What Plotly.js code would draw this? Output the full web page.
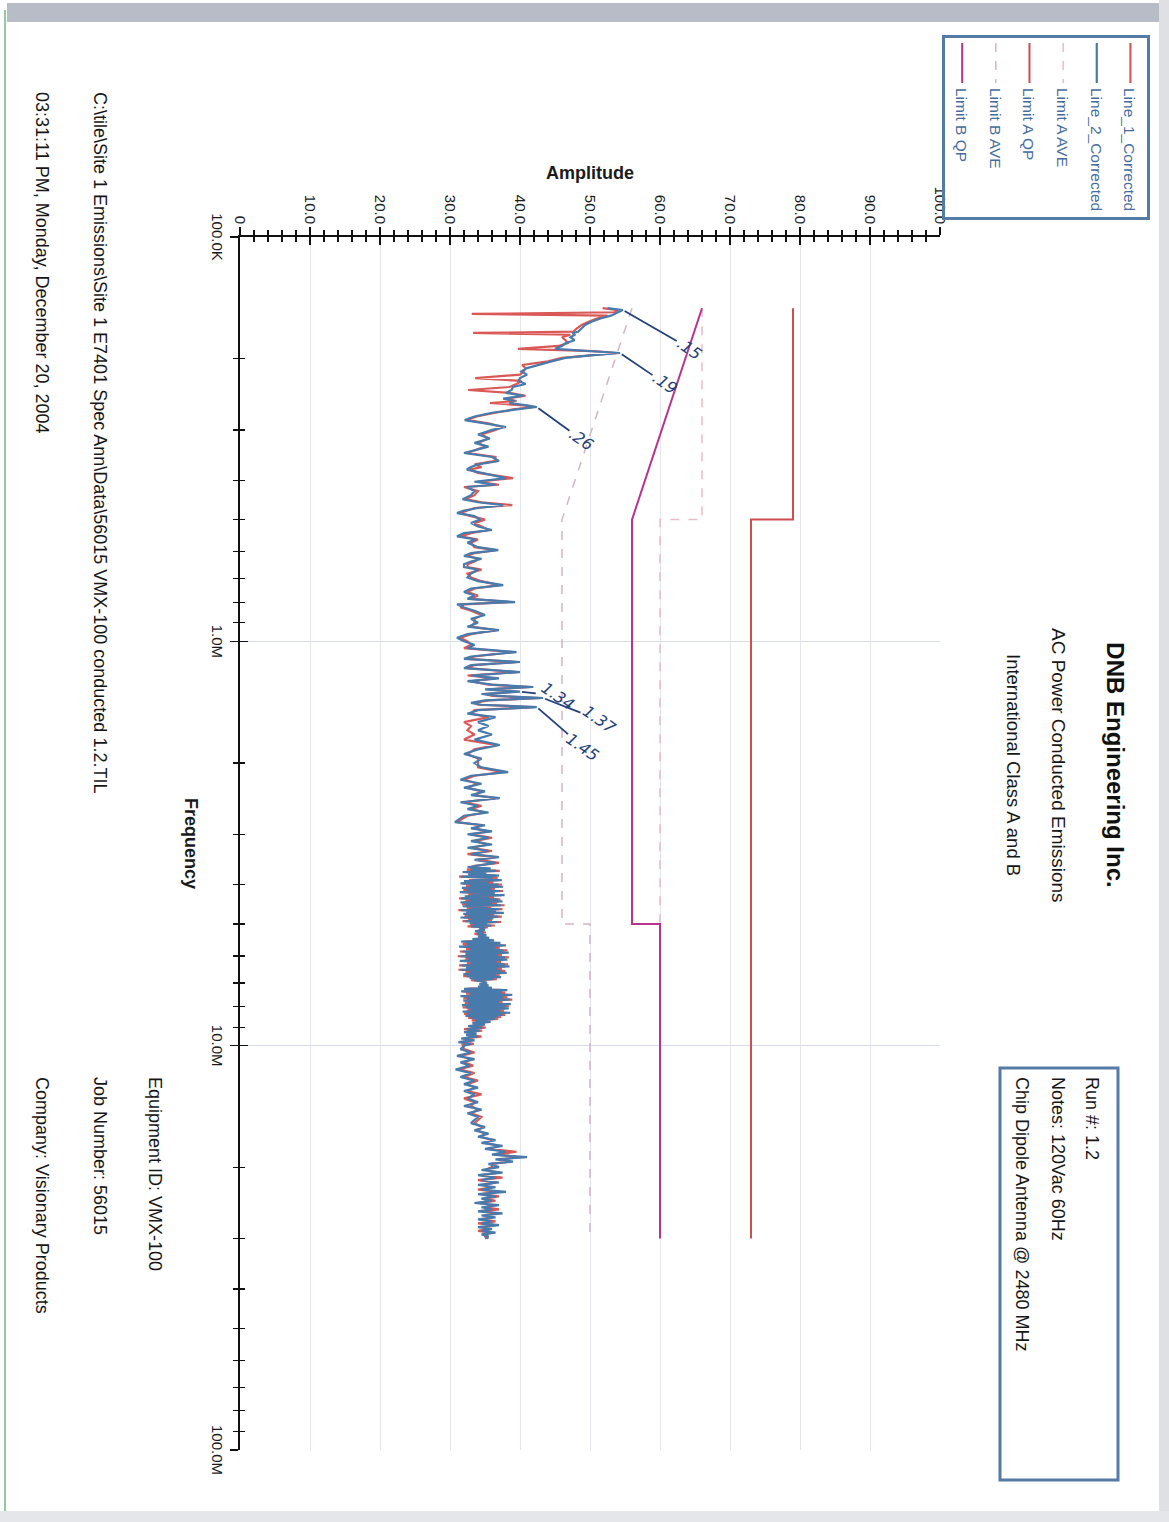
<!DOCTYPE html>
<html>
<head>
<meta charset="utf-8">
<script src="https://cdn.plot.ly/plotly-3.0.1.min.js"></script>
<style>
html,body{margin:0;padding:0;width:1169px;height:1522px;overflow:hidden;background:#fff;}
#wrap{position:absolute;left:0;top:0;width:1522px;height:1169px;transform-origin:0 0;transform:translate(1169px,0) rotate(90deg);}
#chart{width:1522px;height:1169px;}
</style>
</head>
<body>
<div id="wrap"><div id="chart"></div></div>
<script>
// ---------- DATA (frequency in MHz, amplitude in dBuV) ----------
const freqA = [0.150,0.1516,0.1535,0.155,0.1565,0.159,0.162,0.165,0.169,0.1715,
  0.1727,0.1745,0.177,0.180,0.183,0.186,0.189,0.1915,0.1936,0.196,
  0.199,0.203,0.2073,0.211,0.215,0.219,0.2233,0.227,0.231,0.235,
  0.239,0.243,0.247,0.251,0.2545,0.2574,0.261,0.2633,0.267,0.272,
  0.278,0.2836,0.289,0.2951,0.300];
const line1A = [51.8,54.0,53.5,33.1,52.5,51.0,49.8,48.8,48.0,47.6,
  33.3,47.2,46.0,46.5,46.8,45.5,39.7,50.5,53.8,50.0,
  46.0,44.0,40.3,40.8,40.5,40.0,33.6,40.2,39.5,38.5,
  32.6,38.5,40.8,38.0,39.5,35.7,40.5,42.0,39.0,36.5,
  33.8,32.5,35.5,37.5,36.5];
const line2A = [52.5,54.7,54.0,53.5,53.0,51.5,50.2,49.3,48.6,48.3,
  47.5,47.8,47.2,47.8,46.5,46.0,45.0,51.0,54.3,50.5,
  46.5,44.5,42.5,41.0,40.2,41.0,40.0,39.8,40.8,39.0,
  38.8,38.0,40.5,37.6,39.2,38.5,41.0,42.4,39.5,36.0,
  33.5,32.1,35.0,38.0,36.0];

const freqB = [0.308,0.315,0.323,0.330,0.3422,0.350,0.358,0.365,0.3707,0.376,
  0.383,0.3947,0.403,0.410,0.4153,0.425,0.435,0.445,0.453,0.4602,
  0.468,0.475,0.4817,0.490,0.500,0.510,0.520,0.5305,0.540,0.550,
  0.560,0.570,0.585,0.5946,0.605,0.615,0.625,0.635,0.645,0.6552,
  0.665,0.680,0.695,0.710,0.7258,0.740,0.755,0.770,0.785,0.7996,
  0.810,0.825,0.840,0.861,0.880,0.900,0.920,0.938,0.960,0.980];
const line1B = [34.5,35.5,34.0,35.0,32.5,36.5,36.5,33.5,34.5,32.8,
  34.0,39.0,34.0,37.0,32.0,34.0,33.5,32.2,34.5,38.9,
  33.5,32.5,31.5,33.0,35.0,33.5,34.5,35.5,33.0,31.5,
  34.0,33.0,33.5,36.5,33.5,32.5,34.0,33.5,32.5,32.5,
  34.5,32.5,33.0,34.5,37.0,33.5,32.5,34.0,33.0,38.5,
  32.0,31.5,33.0,34.5,33.5,33.5,33.0,36.5,33.0,31.5];
const line2B = [34.0,35.7,33.5,35.5,32.0,36.0,37.0,34.0,33.0,32.4,
  34.5,38.0,33.5,36.5,32.4,33.5,33.0,31.8,34.0,37.6,
  34.0,32.0,31.0,33.5,34.3,33.0,34.0,36.0,32.0,31.0,
  33.7,32.5,34.0,36.9,33.0,32.0,34.5,33.0,32.0,32.0,
  34.0,33.0,32.5,34.0,37.6,33.0,32.0,33.5,32.5,39.3,
  31.0,32.0,33.5,35.0,33.0,34.0,32.5,37.0,32.5,31.0];

const freqC = [1.000,1.020,1.040,1.063,1.090,1.105,1.125,1.145,1.165,1.191,
  1.215,1.235,1.255,1.280,1.297,1.315,1.332,1.350,1.365,1.381,
  1.400,1.420,1.435,1.454,1.480,1.510,1.540,1.584,1.620,1.660,
  1.700,1.750,1.805,1.850,1.900,1.950,2.000,2.050,2.106,2.150,
  2.200,2.250,2.300,2.350,2.400,2.441,2.500,2.550,2.600,2.650,
  2.700,2.799,2.850,2.900,2.950,3.000,3.060,3.120,3.180,3.240,
  3.300,3.360,3.416,3.470,3.530,3.590];
const line1C = [32.5,33.0,32.0,39.0,33.5,32.5,39.5,33.5,32.5,39.5,
  32.5,36.5,33.0,35.5,41.5,35.5,39.5,35.0,36.0,43.0,
  35.5,33.5,34.0,42.0,33.5,33.0,35.5,32.0,33.0,32.5,
  33.5,32.0,36.5,33.5,32.5,34.0,34.0,34.0,37.5,33.5,
  32.0,34.0,32.5,34.5,33.5,36.5,32.0,34.5,33.0,35.0,
  32.5,31.0,34.5,33.5,35.5,33.0,36.0,33.5,35.5,33.0,
  36.0,32.5,36.5,34.0,37.0,33.5];
const line2C = [32.0,33.5,32.5,39.5,33.0,32.0,40.0,33.0,32.0,40.0,
  33.0,37.0,32.5,36.0,41.9,35.0,40.0,34.5,37.0,43.3,
  35.0,33.0,34.5,42.4,34.0,32.5,36.5,34.0,35.5,34.0,
  36.0,33.5,37.1,34.0,32.0,34.5,33.5,34.5,38.3,33.0,
  31.5,34.5,32.0,35.0,33.0,37.1,31.5,34.0,32.5,35.5,
  32.0,30.7,35.0,33.0,36.0,32.5,35.5,33.0,36.0,32.5,
  35.5,33.0,37.0,33.5,36.5,34.0];

const freqD = [3.62,3.645,3.67,3.695,3.72,3.745,3.77,3.795,3.82,3.845,
  3.87,3.895,3.92,3.945,3.97,3.995,4.02,4.045,4.07,4.095,
  4.12,4.145,4.17,4.195,4.22,4.245,4.27,4.295,4.32,4.345,
  4.37,4.395,4.42,4.445,4.47,4.495,4.52,4.545,4.57,4.595,
  4.62,4.645,4.67,4.695,4.72,4.745,4.77,4.795,4.82,4.845,
  4.87,4.895,4.92,4.945,4.97,4.995,5.02,5.045,5.07,5.095];
const line1D = [33.0,35.2,32.4,37.1,32.2,34.8,33.1,36.5,31.3,36.8,
  32.7,36.9,32.5,36.2,31.8,37.4,32.3,37.0,32.2,36.4,
  31.9,37.6,31.8,35.9,32.6,37.3,32.5,36.3,31.3,37.2,
  32.2,37.0,32.0,36.7,31.7,37.8,32.3,35.9,32.4,37.5,
  31.2,36.1,32.8,37.2,32.4,36.3,32.1,37.4,32.0,35.7,
  32.6,36.0,31.8,37.3,33.3,34.9,32.9,36.4,32.5,35.4];
const line2D = [32.5,35.8,33.0,36.6,31.8,35.2,32.6,37.0,31.6,36.1,
  33.2,37.4,32.0,35.5,31.5,36.9,32.8,37.6,31.7,35.9,
  32.4,37.2,31.4,36.4,33.0,37.8,32.1,35.6,31.6,36.8,
  32.7,37.5,31.5,36.0,32.2,37.3,31.8,35.4,32.9,37.0,
  31.6,36.6,32.3,37.7,31.9,35.8,32.6,36.9,31.5,36.2,
  33.1,35.5,32.2,36.8,32.8,35.3,33.4,35.9,33.0,35.0];

const freqE = [5.13,5.17,5.21,5.25,5.29,5.33,5.37,5.41,5.45,5.49,
  5.53,5.57,5.61,5.65,5.69,5.73,5.77,5.81,5.85,5.89,
  5.93,5.97,6.01,6.05,6.09,6.13,6.17,6.21,6.25,6.29,
  6.33,6.37,6.41,6.45,6.49,6.53,6.57,6.61,6.65,6.69,
  6.73,6.77,6.81,6.85,6.89,
  6.94,6.99,7.04,7.09,7.14,7.19,
  7.24,7.29,7.34,7.39,7.44,7.49,7.54,7.59,7.64,7.69,
  7.74,7.79,7.84,7.89,7.94,7.99,8.04,8.09,8.14,8.19,
  8.24,8.29,8.34,8.39,8.44,8.49,8.54,8.59,
  8.66,8.73,8.80,8.87,8.94,9.02,9.10,9.18,9.26,9.34,
  9.42,9.50,9.60,9.70,9.80,9.90,9.97];
const line1E = [34.6,34.6,34.0,35.1,33.5,34.8,34.4,35.2,33.6,35.8,
  32.1,36.7,31.8,37.5,31.9,37.1,32.3,38.2,31.4,37.8,
  32.7,37.4,31.1,38.4,32.2,37.6,31.9,37.3,32.4,38.3,
  31.3,37.9,32.8,37.4,31.2,37.9,32.2,37.5,32.4,37.1,
  31.9,36.8,33.2,36.7,33.0,
  35.0,34.8,34.6,35.0,34.5,35.6,
  32.5,37.6,31.9,37.9,32.3,38.4,32.0,38.2,31.9,38.9,
  32.4,37.5,32.1,38.2,32.2,38.4,31.8,37.9,32.5,37.7,
  32.3,38.1,32.0,37.9,32.7,37.3,32.6,36.9,
  33.1,35.4,33.7,34.6,33.0,35.1,32.0,34.6,32.4,33.4,
  32.8,34.5,31.9,33.1,31.6,33.4,31.8];
const line2E = [34.2,35.0,33.6,34.8,33.9,35.2,34.0,35.6,33.2,36.3,
  31.6,37.2,32.4,38.0,31.3,36.5,32.8,37.6,31.8,38.4,
  32.2,36.9,31.5,37.9,32.6,38.2,31.4,36.7,32.9,37.8,
  31.7,38.5,32.3,36.8,31.5,37.4,32.7,38.1,31.9,36.6,
  32.4,37.3,32.8,36.2,33.5,
  34.6,35.3,34.2,35.5,34.0,36.0,
  32.0,38.2,31.6,37.4,32.8,38.9,31.5,37.6,32.4,38.5,
  31.9,37.0,32.6,38.7,31.7,37.9,32.3,38.4,32.9,37.2,
  31.8,38.6,32.5,37.5,32.2,36.8,33.0,36.4,
  33.6,35.8,33.2,35.0,32.6,34.6,32.4,34.2,32.0,33.8,
  32.3,34.0,31.6,33.5,31.2,33.0,32.2];

const freqF = [10.2,10.4,10.6,10.8,11.0,11.2,11.45,11.69,11.95,12.2,
  12.45,12.7,12.95,13.2,13.5,13.8,14.1,14.4,14.7,15.0,
  15.54,15.9,16.2,16.5,16.8,17.12,17.4,17.7,18.0,18.3,
  18.6,18.87,19.1,19.35,19.6,19.97,20.3,20.6,20.9,21.2,
  21.5,21.8,22.1,22.4,22.7,23.0,23.3,23.6,23.9,24.2,
  24.5,24.8,25.1,25.4,25.7,26.0,26.3,26.6,26.9,27.2,
  27.5,27.8,28.1,28.4,28.7,29.0,29.3,29.6,30.0];
const line1F = [32.0,33.5,31.5,33.0,32.0,33.3,31.3,33.5,32.0,34.0,
  32.5,33.5,32.5,34.5,32.0,33.5,33.0,34.0,33.0,34.5,
  33.5,34.5,34.0,35.0,34.5,36.0,35.0,37.0,35.5,39.5,
  36.5,40.0,37.5,38.5,36.0,36.0,35.0,37.0,34.5,37.5,
  34.0,36.5,35.0,36.0,34.0,37.0,34.5,37.0,35.0,36.5,
  34.0,36.5,35.0,37.0,34.5,36.5,35.0,36.0,34.5,36.5,
  34.0,36.5,35.0,35.5,34.0,36.0,35.0,35.0,35.5];
const line2F = [31.5,33.0,31.0,33.5,31.5,32.8,30.8,33.0,31.5,33.5,
  32.0,34.0,32.0,33.5,32.5,34.0,32.0,34.5,32.5,34.0,
  33.0,35.0,33.5,35.5,34.0,36.5,34.5,37.5,35.0,38.0,
  36.0,41.0,36.5,39.0,35.5,37.0,34.5,37.5,34.0,36.5,
  34.5,37.0,34.0,36.5,34.5,38.0,34.0,36.5,34.5,36.0,
  33.5,37.0,34.5,36.0,34.0,37.5,34.5,36.5,34.0,36.0,
  34.5,37.0,34.0,36.0,34.5,36.5,34.5,35.5,35.0];

// Limits (EN55022 / CISPR 22 conducted)
const limitAFreq = [0.15, 0.5, 0.5, 30];
const limitAQP   = [79, 79, 73, 73];
const limitAAVE  = [66, 66, 60, 60];
const limitBFreq = [0.15, 0.5, 5, 5, 30];
const limitBQP   = [66, 56, 56, 60, 60];
const limitBAVE  = [56, 46, 46, 50, 50];

// Axis ticks
const freqTickVals = [0.1, 1, 10, 100];
const freqTickText = ['100.0K', '1.0M', '10.0M', '100.0M'];
const freqMinorVals = [0.2,0.3,0.4,0.5,0.6,0.7,0.8,0.9,2,3,4,5,6,7,8,9,20,30,40,50,60,70,80,90];
const ampTickVals = [0,10,20,30,40,50,60,70,80,90,100];
const ampTickText = ['0','10.0','20.0','30.0','40.0','50.0','60.0','70.0','80.0','90.0','100.0'];

// Handwritten markings on the printed sheet
const notes = [
  {label: '.15',  f: 0.1516, a: 54.7, ax: 38, ay: -66},
  {label: '.19',  f: 0.1936, a: 54.3, ax: 30, ay: -44},
  {label: '.26',  f: 0.2633, a: 42.4, ax: 32, ay: -44},
  {label: '1.34', f: 1.332,  a: 40.0, ax: 4,  ay: -38},
  {label: '1.37', f: 1.381,  a: 43.3, ax: 22, ay: -56},
  {label: '1.45', f: 1.454,  a: 42.4, ax: 40, ay: -46}
];

// ---------- BUILD ----------
const freq  = [].concat(freqA, freqB, freqC, freqD, freqE, freqF);
const line1 = [].concat(line1A, line1B, line1C, line1D, line1E, line1F);
const line2 = [].concat(line2A, line2B, line2C, line2D, line2E, line2F);

const FONT = 'Arial, "Liberation Sans", sans-serif';
const INK = '#111111';
const BOXBLUE = 'rgb(84,122,166)';

const traces = [
  {x: freq, y: line1, name: 'Line_1_Corrected', legendgroup: 'g1', mode: 'lines',
   line: {color: 'rgb(218,88,86)', width: 2.2}},
  {x: freq, y: line2, name: 'Line_2_Corrected', legendgroup: 'g2', mode: 'lines',
   line: {color: 'rgb(72,122,172)', width: 2.2}},
  {x: limitAFreq, y: limitAAVE, name: 'Limit A AVE', legendgroup: 'g3', mode: 'lines',
   line: {color: 'rgb(236,188,196)', width: 1.5, dash: 'dash'}},
  {x: limitAFreq, y: limitAQP, name: 'Limit A QP', legendgroup: 'g4', mode: 'lines',
   line: {color: 'rgb(206,78,80)', width: 2}},
  {x: limitBFreq, y: limitBAVE, name: 'Limit B AVE', legendgroup: 'g5', mode: 'lines',
   line: {color: 'rgb(214,180,200)', width: 1.5, dash: 'dash'}},
  {x: limitBFreq, y: limitBQP, name: 'Limit B QP', legendgroup: 'g6', mode: 'lines',
   line: {color: 'rgb(184,52,140)', width: 2}},
  // empty trace that only activates the overlay axes carrying the inner half of the tick marks
  {x: [], y: [], xaxis: 'x2', yaxis: 'y2', showlegend: false, mode: 'lines', hoverinfo: 'skip'}
];

// plot box in page pixels: left 237, right 1450, top 229, bottom 929
const PL = 237, PR = 1450, PT = 229, PB = 929;
const px = u => (u - PL) / (PR - PL);
const py = v => (PB - v) / (PB - PT);

const textAnn = (t, u, v, size, anchor) => ({
  text: t, xref: 'paper', yref: 'paper', x: px(u), y: py(v),
  xanchor: anchor || 'left', yanchor: 'middle', showarrow: false,
  font: {family: FONT, size: size, color: '#161616'}
});

const annotations = [
  textAnn('AC Power Conducted Emissions', 765, 110, 19, 'center'),
  textAnn('International Class A and B', 765, 155, 18.5, 'center'),
  textAnn('Run #: 1.2', 1075, 77, 18),
  textAnn('Notes: 120Vac 60Hz', 1075, 111, 18),
  textAnn('Chip Dipole Antenna @ 2480 MHz', 1075, 147, 18),
  textAnn('Equipment ID: VMX-100', 1075, 1014, 18),
  textAnn('Job Number: 56015', 1075, 1069, 18),
  textAnn('Company: Visionary Products', 1075, 1127, 18),
  textAnn('C:\\tile\\Site 1 Emissions\\Site 1 E7401 Spec Ann\\Data\\56015 VMX-100 conducted 1.2.TIL', 90, 1069, 18),
  textAnn('03:31:11 PM, Monday, December 20, 2004', 90, 1127, 18)
];
notes.forEach(n => annotations.push({
  text: '<i>' + n.label + '</i>', xref: 'x', yref: 'y', x: Math.log10(n.f), y: n.a,
  ax: n.ax, ay: n.ay, showarrow: true, arrowhead: 0, arrowwidth: 1.8,
  arrowcolor: '#24407a', textangle: -55, standoff: 2,
  font: {family: '"DejaVu Sans", sans-serif', size: 16, color: '#24407a'}
}));

const shapes = [
  // information box
  {type: 'rect', xref: 'paper', yref: 'paper', x0: px(1068), x1: px(1480), y0: py(169), y1: py(51),
   line: {color: BOXBLUE, width: 3}, fillcolor: 'rgba(0,0,0,0)'},
  // scanned page edges
  {type: 'rect', xref: 'paper', yref: 'paper', x0: px(3), x1: px(22), y0: py(1162), y1: py(8),
   line: {width: 0}, fillcolor: 'rgb(184,188,198)'},
  {type: 'line', xref: 'paper', yref: 'paper', x0: px(10), x1: px(1515), y0: py(1164), y1: py(1164),
   line: {color: 'rgb(150,200,160)', width: 2}},
  {type: 'rect', xref: 'paper', yref: 'paper', x0: px(0), x1: px(1522), y0: py(10), y1: py(0),
   line: {width: 0}, fillcolor: 'rgb(222,224,228)'},
  {type: 'rect', xref: 'paper', yref: 'paper', x0: px(1511), x1: px(1522), y0: py(1169), y1: py(0),
   line: {width: 0}, fillcolor: 'rgb(228,230,233)'}
];

const layout = {
  width: 1522, height: 1169,
  margin: {l: PL, r: 1522 - PR, t: PT, b: 1169 - PB, autoexpand: false},
  paper_bgcolor: '#ffffff', plot_bgcolor: '#ffffff',
  font: {family: FONT, color: '#1a1a1a'},
  title: {text: '<b>DNB Engineering Inc.</b>', x: 765 / 1522, xanchor: 'center',
          y: 1 - 54 / 1169, yanchor: 'middle', font: {family: FONT, size: 24, color: '#111'}},
  showlegend: true,
  legend: {x: px(35), y: py(19), xanchor: 'left', yanchor: 'top', bgcolor: 'rgba(255,255,255,0)',
           bordercolor: BOXBLUE, borderwidth: 3, tracegroupgap: 10.5, itemwidth: 40,
           font: {family: FONT, size: 15.5, color: 'rgb(70,108,156)'}},
  xaxis: {type: 'log', range: [-1, 2], tickmode: 'array', tickvals: freqTickVals, ticktext: freqTickText,
          ticks: 'outside', ticklen: 8, tickwidth: 1.5, tickcolor: INK,
          showline: true, linecolor: INK, linewidth: 2, zeroline: false,
          showgrid: true, gridcolor: 'rgb(212,220,232)', gridwidth: 1,
          minor: {tickmode: 'array', tickvals: freqMinorVals, ticks: 'outside', ticklen: 5,
                  tickwidth: 1.2, tickcolor: INK, showgrid: false},
          tickfont: {family: FONT, size: 15, color: '#1a1a1a'},
          title: {text: '<b>Frequency</b>', standoff: 12, font: {family: FONT, size: 18, color: '#1a1a1a'}}},
  yaxis: {range: [0, 100], tickmode: 'array', tickvals: ampTickVals, ticktext: ampTickText,
          ticks: 'outside', ticklen: 8, tickwidth: 1.5, tickcolor: INK,
          showline: true, linecolor: INK, linewidth: 2, zeroline: false,
          showgrid: true, gridcolor: 'rgb(226,230,236)', gridwidth: 1,
          minor: {dtick: 2, ticks: 'outside', ticklen: 5, tickwidth: 1.2, tickcolor: INK, showgrid: false},
          tickfont: {family: FONT, size: 15, color: '#1a1a1a'},
          title: {text: '<b>Amplitude</b>', standoff: 2, font: {family: FONT, size: 18, color: '#1a1a1a'}}},
  xaxis2: {overlaying: 'x', anchor: 'y2', side: 'bottom', type: 'log', range: [-1, 2],
           tickmode: 'array', tickvals: freqTickVals, ticks: 'inside', ticklen: 8, tickwidth: 1.5, tickcolor: INK,
           showticklabels: false, showgrid: false, showline: false, zeroline: false,
           minor: {tickmode: 'array', tickvals: freqMinorVals, ticks: 'inside', ticklen: 5,
                   tickwidth: 1.2, tickcolor: INK, showgrid: false}},
  yaxis2: {overlaying: 'y', anchor: 'x2', side: 'left', range: [0, 100],
           tickmode: 'array', tickvals: ampTickVals, ticks: 'inside', ticklen: 8, tickwidth: 1.5, tickcolor: INK,
           showticklabels: false, showgrid: false, showline: false, zeroline: false,
           minor: {dtick: 2, ticks: 'inside', ticklen: 5, tickwidth: 1.2, tickcolor: INK, showgrid: false}},
  annotations: annotations,
  shapes: shapes,
  hovermode: false
};

Plotly.newPlot('chart', traces, layout, {displayModeBar: false, staticPlot: true});
</script>
</body>
</html>
